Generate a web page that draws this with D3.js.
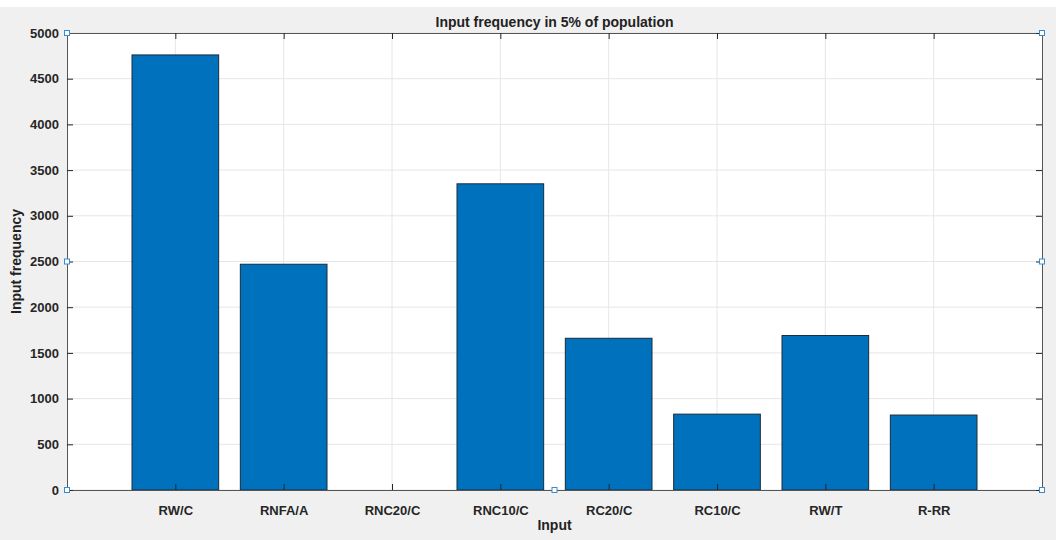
<!DOCTYPE html><html><head><script src="https://cdn.jsdelivr.net/npm/d3@7"></script>
<style>body{margin:0;background:#fff}</style></head><body><svg id="c" width="1056" height="540"></svg><script>
const categories=["RW/C","RNFA/A","RNC20/C","RNC10/C","RC20/C","RC10/C","RW/T","R-RR"];
const values=[4760,2470,0,3350,1660,830,1690,820];
const yTicks=[0,500,1000,1500,2000,2500,3000,3500,4000,4500,5000];
const svg=d3.select("#c");
svg.append("rect").attr("x",0).attr("y",7).attr("width",1056).attr("height",533).attr("fill","#f0f0f0");
const L=67,R=1042,T=33,B=490;
svg.append("rect").attr("x",L).attr("y",T).attr("width",R-L).attr("height",B-T).attr("fill","#fff");
const x=d3.scaleLinear().domain([0,9]).range([L,R]);
const y=d3.scaleLinear().domain([0,5000]).range([B,T]);
const g=svg.append("g");
yTicks.forEach(t=>g.append("line").attr("x1",L).attr("x2",R).attr("y1",y(t)).attr("y2",y(t)).attr("stroke","#e6e6e6"));
categories.forEach((c,i)=>g.append("line").attr("x1",x(i+1)).attr("x2",x(i+1)).attr("y1",T).attr("y2",B).attr("stroke","#e6e6e6"));
const bw=(x(1)-x(0))*0.8;
g.selectAll(".b").data(values).join("rect").attr("x",(d,i)=>x(i+1)-bw/2).attr("width",bw)
 .attr("y",d=>y(d)).attr("height",d=>B-y(d)).attr("fill","#0072BD").attr("stroke","#1a2a3a").attr("stroke-width",1);
const ax=svg.append("g").attr("transform",`translate(0,${B})`).call(d3.axisBottom(x).tickValues(d3.range(1,9)).tickFormat(i=>categories[i-1]).tickSize(-6).tickPadding(16));
const ay=svg.append("g").attr("transform",`translate(${L},0)`).call(d3.axisLeft(y).tickValues(yTicks).tickFormat(d3.format("d")).tickSize(-6).tickPadding(8));
const ax2=svg.append("g").attr("transform",`translate(0,${T})`).call(d3.axisTop(x).tickValues(d3.range(1,9)).tickFormat("").tickSize(-6));
const ay2=svg.append("g").attr("transform",`translate(${R},0)`).call(d3.axisRight(y).tickValues(yTicks).tickFormat("").tickSize(-6));
[ax,ay,ax2,ay2].forEach(a=>{a.selectAll("path,line").attr("stroke","#262626");a.selectAll("text").attr("fill","#262626").style("font","bold 13px 'Liberation Sans',Arial,sans-serif");a.select(".domain").attr("stroke","#555")});
svg.append("text").attr("x",(L+R)/2).attr("y",27).attr("text-anchor","middle").style("font","bold 14px 'Liberation Sans',Arial,sans-serif").attr("fill","#222").text("Input frequency in 5% of population");
svg.append("text").attr("x",(L+R)/2).attr("y",530).attr("text-anchor","middle").style("font","bold 14px 'Liberation Sans',Arial,sans-serif").attr("fill","#222").text("Input");
svg.append("text").attr("transform",`translate(21,${(T+B)/2}) rotate(-90)`).attr("text-anchor","middle").style("font","bold 14px 'Liberation Sans',Arial,sans-serif").attr("fill","#222").text("Input frequency");
[[L,T],[R,T],[L,(T+B)/2],[R,(T+B)/2],[L,B],[x(4.5),B],[R,B]].forEach(p=>svg.append("rect").attr("x",p[0]-2.5).attr("y",p[1]-2.5).attr("width",5).attr("height",5).attr("fill","#fff").attr("stroke","#3a8ad0"));
</script></body></html>
